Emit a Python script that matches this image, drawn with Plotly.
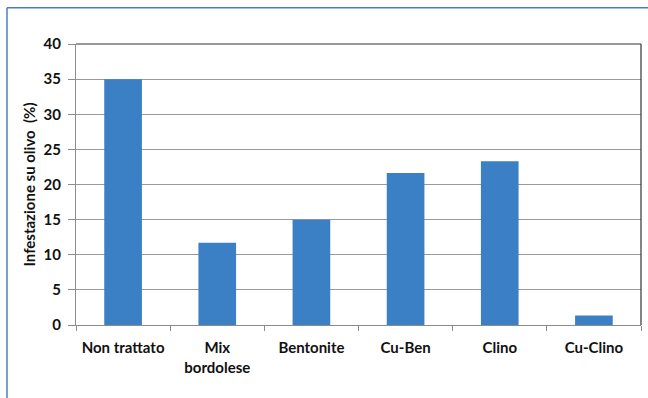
import plotly.graph_objects as go

categories = ["Non trattato", "Mix<br>bordolese", "Bentonite", "Cu-Ben", "Clino", "Cu-Clino"]
values = [35.0, 11.7, 15.0, 21.65, 23.3, 1.35]
y_ticks = [0, 5, 10, 15, 20, 25, 30, 35, 40]

FONT = "Lato"
fig = go.Figure()
fig.add_trace(go.Bar(x=categories, y=values, marker=dict(color="#3b7fc4", line=dict(width=0)), width=0.4))

fig.update_layout(
    width=648, height=398,
    margin=dict(l=76, r=7, t=44, b=73),
    paper_bgcolor="white", plot_bgcolor="white",
    showlegend=False,
    font=dict(family=FONT, size=15, color="#111111"),
    xaxis=dict(
        type="category", tickson="boundaries", ticks="outside", ticklen=5,
        tickcolor="#8c8c8c", showline=True, linecolor="#8c8c8c", linewidth=1,
        showgrid=False, tickfont=dict(family=FONT, size=15, color="#111111", weight="bold"),
        ticklabelstandoff=9,
    ),
    yaxis=dict(
        range=[0, 40], tickvals=y_ticks, ticks="outside", ticklen=7,
        tickcolor="#8c8c8c", showline=True, linecolor="#8c8c8c", linewidth=1,
        showgrid=True, gridcolor="#9a9a9a", gridwidth=1, zeroline=False,
        tickfont=dict(family=FONT, size=15, color="#111111", weight="bold"),
        ticklabelstandoff=4,
        title=dict(text="Infestazione su olivo  (%)", font=dict(family=FONT, size=15, color="#111111", weight="bold"), standoff=4),
    ),
    shapes=[
        dict(type="line", xref="paper", yref="paper", x0=0, x1=1, y0=1, y1=1, line=dict(color="#333333", width=1.2)),
        dict(type="line", xref="paper", yref="paper", x0=1, x1=1, y0=0, y1=1, line=dict(color="#333333", width=1.2)),
        dict(type="line", xref="paper", yref="paper", x0=(7 - 76) / 565, x1=1.05, y0=(324 - 8) / 280, y1=(324 - 8) / 280,
             line=dict(color="#4a7fbf", width=1.5)),
        dict(type="line", xref="paper", yref="paper", x0=(7 - 76) / 565, x1=(7 - 76) / 565, y0=(324 - 8) / 280, y1=-0.4,
             line=dict(color="#4a7fbf", width=1.5)),
    ],
)

fig.write_html("out.html")
